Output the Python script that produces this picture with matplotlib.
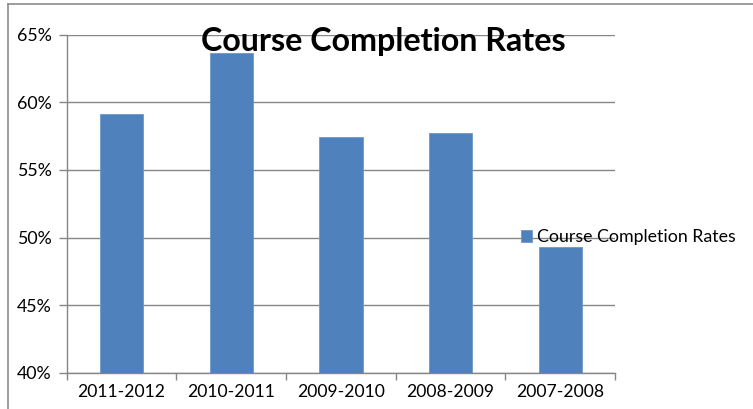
import matplotlib
matplotlib.use("Agg")
import matplotlib.pyplot as plt
from matplotlib.lines import Line2D
from matplotlib.ticker import FuncFormatter, MultipleLocator

categories = ["2011-2012", "2010-2011", "2009-2010", "2008-2009", "2007-2008"]
values = [59.1, 63.65, 57.45, 57.7, 49.3]
series_name = "Course Completion Rates"
title = "Course Completion Rates"

plt.rcParams['font.family'] = ['Lato', 'DejaVu Sans']

W, H = 753, 409
fig = plt.figure(figsize=(W / 100, H / 100), dpi=100)
ax = fig.add_axes([66.7 / W, 1 - 372.7 / H, (615 - 66.7) / W, (372.7 - 34.7) / H])

bar_color = "#4F81BD"
grid_color = "#868686"

x = list(range(len(categories)))
ax.bar(x, values, width=0.395, color=bar_color, label=series_name, zorder=3,
       edgecolor="#6e97c8", linewidth=0.6)

ax.set_xlim(-0.5, len(categories) - 0.5)
ax.set_ylim(40, 65)
ax.yaxis.set_major_locator(MultipleLocator(5))
ax.yaxis.set_major_formatter(FuncFormatter(lambda v, p: f"{v:.0f}%"))
ax.grid(axis="y", color=grid_color, linewidth=1.0, zorder=0)
ax.set_axisbelow(True)

for s in ["top", "right"]:
    ax.spines[s].set_visible(False)
for s in ["left", "bottom"]:
    ax.spines[s].set_color(grid_color)
    ax.spines[s].set_linewidth(1.0)

ax.set_xticks(x)
ax.set_xticklabels(categories)
ax.set_xticks([i - 0.5 for i in range(len(categories) + 1)], minor=True)
ax.tick_params(axis="x", which="major", length=0, pad=8, labelsize=12.6, colors="black")
ax.tick_params(axis="x", which="minor", length=5, color=grid_color, width=1.0)
ax.tick_params(axis="y", length=6, color=grid_color, width=1.0, pad=5, labelsize=12.8)

fig.text(383 / W, 1 - 42 / H, title, ha="center", va="center",
         fontsize=23.2, fontweight="bold", color="black")

fig.legend(loc="center left", bbox_to_anchor=(521 / W, 1 - 237 / H), frameon=False,
           fontsize=12.8, handlelength=0.62, handleheight=0.62, handletextpad=0.3,
           borderpad=0, borderaxespad=0)

# chart area border (top and left visible)
fig.add_artist(Line2D([8 / W, 8 / W], [0, 1 - 4 / H], color="#8c8c8c", linewidth=1.2))
fig.add_artist(Line2D([8 / W, 1], [1 - 4 / H, 1 - 4 / H], color="#8c8c8c", linewidth=1.2))

fig.savefig("out.png", dpi=100)
